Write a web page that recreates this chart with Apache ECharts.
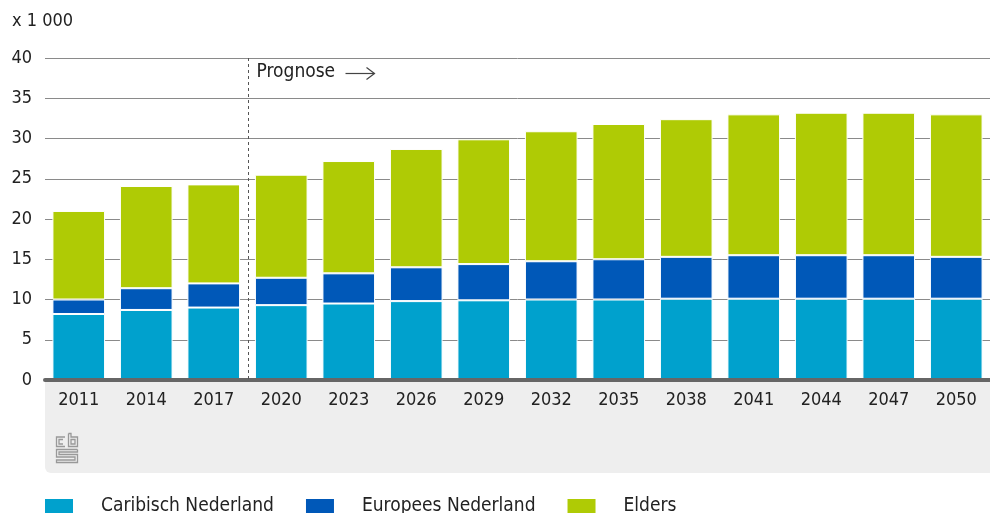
<!DOCTYPE html>
<html>
<head>
<meta charset="utf-8">
<script src="https://cdn.jsdelivr.net/npm/echarts@6/dist/echarts.min.js"></script>
<style>
html,body{margin:0;padding:0;background:#fff;}
#c{width:990px;height:513px;}
</style>
</head>
<body>
<div id="c"></div>
<script>
const years = ['2011','2014','2017','2020','2023','2026','2029','2032','2035','2038','2041','2044','2047','2050'];
const caribisch = [8.2, 8.7, 9.0, 9.3, 9.5, 9.8, 9.9, 10.0, 10.0, 10.1, 10.1, 10.1, 10.1, 10.1];
const europees  = [1.8, 2.7, 3.0, 3.4, 3.75, 4.2, 4.5, 4.75, 5.0, 5.2, 5.4, 5.4, 5.4, 5.2];
const elders    = [11.0, 12.7, 12.3, 12.8, 13.95, 14.7, 15.5, 16.15, 16.8, 17.1, 17.5, 17.7, 17.7, 17.7];
const yTicks = [0, 5, 10, 15, 20, 25, 30, 35, 40];
const seriesNames = ['Caribisch Nederland', 'Europees Nederland', 'Elders'];
const colors = ['#00a1cd', '#0058b8', '#afcb05'];

const FONT = '"DejaVu Sans Condensed", "Liberation Sans Narrow", "Noto Sans", sans-serif';
const chart = echarts.init(document.getElementById('c'), null, {renderer: 'canvas'});

function mkSeries(name, data, i) {
  return {
    name: name, type: 'bar', stack: 'total', data: data,
    barCategoryGap: '22%',
    itemStyle: {color: colors[i], borderColor: '#ffffff', borderWidth: 1},
    emphasis: {disabled: true},
    z: 3
  };
}

const option = {
  animation: false,
  backgroundColor: '#ffffff',
  textStyle: {fontFamily: FONT},
  grid: {left: 45, right: 0, top: 58, bottom: 133, containLabel: false},
  legend: {
    left: 43, top: 497, padding: 0, itemWidth: 30, itemHeight: 17, itemGap: 30,
    icon: 'rect',
    textStyle: {fontFamily: FONT, fontSize: 19, color: '#222', padding: [0, 0, 0, 22]},
    data: seriesNames
  },
  xAxis: {
    type: 'category', data: years,
    axisLine: {show: true, lineStyle: {color: '#666666', width: 4}},
    axisTick: {show: false},
    axisLabel: {fontFamily: FONT, fontSize: 18, color: '#222', margin: 11},
    z: 5
  },
  yAxis: {
    type: 'value', min: 0, max: 40, interval: 5,
    axisLine: {show: false}, axisTick: {show: false},
    axisLabel: {fontFamily: FONT, fontSize: 18, color: '#222', margin: 13,
      formatter: v => yTicks.includes(v) ? String(v) : ''},
    splitLine: {lineStyle: {color: '#8a8a8a', width: 1}}
  },
  series: [
    mkSeries(seriesNames[0], caribisch, 0),
    mkSeries(seriesNames[1], europees, 1),
    mkSeries(seriesNames[2], elders, 2)
  ]
};
chart.setOption(option);

// derived positions from the library's scales
const x2017 = chart.convertToPixel({xAxisIndex: 0}, '2017');
const x2020 = chart.convertToPixel({xAxisIndex: 0}, '2020');
const xDiv = Math.round((x2017 + x2020) / 2) + 0.5;
const yTop = chart.convertToPixel({yAxisIndex: 0}, 40);
const yZero = chart.convertToPixel({yAxisIndex: 0}, 0);

const logoColor = '#999999';
const lx = 56, ly = 433;
const logoStyle = {stroke: logoColor, lineWidth: 1.3, fill: null};
chart.setOption({
  graphic: [
    {type: 'rect', z: -10, silent: true,
      shape: {x: 45, y: yZero + 1, width: 945, height: 473 - yZero - 1, r: [0, 0, 0, 6]},
      style: {fill: '#eeeeee'}},
    {type: 'text', left: 12, top: 12, silent: true,
      style: {text: 'x 1 000', font: '18px ' + FONT, fill: '#222'}},
    {type: 'line', z: 10, silent: true,
      shape: {x1: xDiv, y1: yTop, x2: xDiv, y2: yZero},
      style: {stroke: '#555', lineWidth: 1, lineDash: [3, 3]}},
    {type: 'text', z: 10, silent: true, x: xDiv + 8, y: 63,
      style: {text: 'Prognose', font: '19px ' + FONT, fill: '#222'}},
    {type: 'polyline', z: 10, silent: true,
      shape: {points: [[xDiv + 97, 73.5], [xDiv + 126, 73.5]]},
      style: {stroke: '#444', lineWidth: 1.2, fill: null}},
    {type: 'polyline', z: 10, silent: true,
      shape: {points: [[xDiv + 118, 67.5], [xDiv + 126, 73.5], [xDiv + 118, 79.5]]},
      style: {stroke: '#444', lineWidth: 1.2, fill: null}},
    // cbs logo (decorative)
    {type: 'group', x: lx, y: ly, silent: true, children: [
      {type: 'polyline', shape: {points: [[9, 4], [0.5, 4], [0.5, 13.5], [9, 13.5]]}, style: logoStyle},
      {type: 'polyline', shape: {points: [[7, 6.5], [3, 6.5], [3, 11], [7, 11]]}, style: logoStyle},
      {type: 'polyline', shape: {points: [[12.5, 0.5], [12.5, 13.5], [21.5, 13.5], [21.5, 4], [15, 4], [15, 0.5], [12.5, 0.5]]}, style: logoStyle},
      {type: 'rect', shape: {x: 15, y: 6.5, width: 4, height: 4.5}, style: logoStyle},
      {type: 'polyline', shape: {points: [[21.5, 16.5], [0.5, 16.5], [0.5, 24], [19, 24], [19, 27], [0.5, 27], [0.5, 29.5], [21.5, 29.5], [21.5, 21.5], [3, 21.5], [3, 19], [21.5, 19], [21.5, 16.5]]}, style: logoStyle}
    ]}
  ]
});
</script>
</body>
</html>
